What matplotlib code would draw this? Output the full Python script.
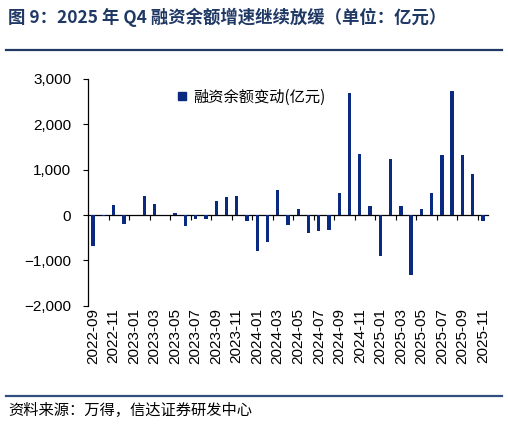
import matplotlib
matplotlib.use("Agg")
import matplotlib.pyplot as plt
from matplotlib.lines import Line2D
from matplotlib.ticker import FixedLocator, FuncFormatter
import numpy as np

plt.rcParams['font.family'] = ['Noto Sans CJK SC', 'DejaVu Sans']
plt.rcParams['axes.unicode_minus'] = False

# monthly change in margin financing balance (100m CNY), 2022-09 .. 2025-11
months = ["2022-09", "2022-10", "2022-11", "2022-12",
          "2023-01", "2023-02", "2023-03", "2023-04", "2023-05", "2023-06",
          "2023-07", "2023-08", "2023-09", "2023-10", "2023-11", "2023-12",
          "2024-01", "2024-02", "2024-03", "2024-04", "2024-05", "2024-06",
          "2024-07", "2024-08", "2024-09", "2024-10", "2024-11", "2024-12",
          "2025-01", "2025-02", "2025-03", "2025-04", "2025-05", "2025-06",
          "2025-07", "2025-08", "2025-09", "2025-10", "2025-11"]
change = [-680, -15, 210, -200,
          -10, 430, 240, 10, 45, -235,
          -95, -95, 316, 397, 426, -140,
          -786, -603, 551, -230, 140, -390,
          -360, -323, 485, 2683, 1338, 198,
          -904, 1228, 198, -1323, 132, 485,
          1323, 2734, 1323, 904, -125]
yticks = [-2000, -1000, 0, 1000, 2000, 3000]

BAR = '#0a2a82'
NAVY = '#1f3864'

fig = plt.figure(figsize=(5.08, 4.26), dpi=100)
ax = fig.add_axes([88 / 508, 1 - 305.7 / 426, 400 / 508, (305.7 - 79) / 426])

x = np.arange(len(months))
ax.bar(x, change, width=0.33, color=BAR, zorder=3)

ax.set_xlim(-0.5, len(months) - 0.5)
ax.set_ylim(-2000, 3000)
ax.set_yticks(yticks)
ax.yaxis.set_major_formatter(FuncFormatter(lambda v, p: f"{int(v):,}".replace('-', '−')))
for lab in ax.get_yticklabels():
    lab.set_family(['Liberation Sans', 'DejaVu Sans'])
ax.tick_params(axis='y', direction='out', length=3.6, width=0.8, labelsize=11,
               pad=8.5, colors='black')

ax.spines['top'].set_visible(False)
ax.spines['right'].set_visible(False)
ax.spines['bottom'].set_position(('data', 0))
ax.spines['left'].set_linewidth(0.9)
ax.spines['bottom'].set_linewidth(0.9)

# labels every two months, tick marks on category boundaries
ax.xaxis.set_major_locator(FixedLocator(x[::2]))
ax.set_xticklabels(months[::2], rotation=90, fontsize=11,
                   family=['Liberation Sans', 'DejaVu Sans'])
ax.xaxis.set_minor_locator(FixedLocator(np.arange(1.5, len(months), 2)))
ax.tick_params(axis='x', which='major', length=0, pad=67)
ax.tick_params(axis='x', which='minor', direction='out', length=3.5, width=0.8)

handle = Line2D([], [], marker='s', linestyle='none', markersize=6,
                color=BAR)
fig.legend([handle], ["融资余额变动(亿元)"], loc='center left',
           bbox_to_anchor=(176 / 508, 1 - 97 / 426), frameon=False,
           fontsize=11, handletextpad=0.3, borderpad=0, borderaxespad=0,
           handlelength=0.8)

fig.text(8 / 508, 1 - 17 / 426, "图 9：2025 年 Q4 融资余额增速继续放缓（单位：亿元）",
         fontsize=12.5, fontweight='bold', color=NAVY, va='center', ha='left')
fig.add_artist(Line2D([6 / 508, 502 / 508], [1 - 50 / 426, 1 - 50 / 426],
                      color=NAVY, linewidth=1.6))
fig.add_artist(Line2D([6 / 508, 502 / 508], [1 - 395.5 / 426, 1 - 395.5 / 426],
                      color='#2f4f7f', linewidth=1.6))
fig.text(8 / 508, 1 - 410 / 426, "资料来源：万得，信达证券研发中心",
         fontsize=11, color='black', va='center', ha='left')

fig.savefig("out.png", dpi=100)
